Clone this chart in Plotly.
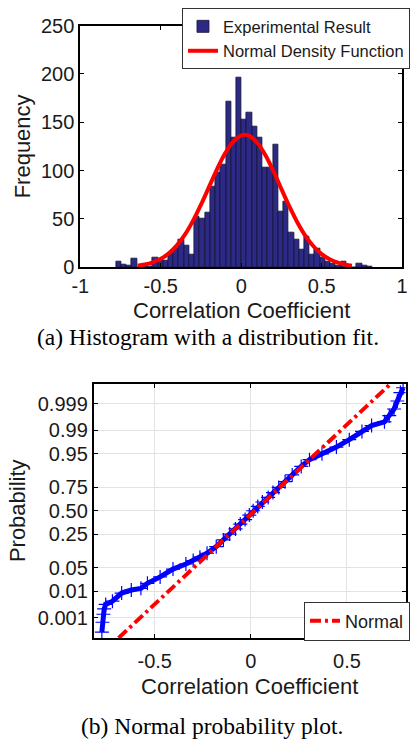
import plotly.graph_objects as go
from statistics import NormalDist

# ---------------- (a) Histogram data ----------------
bin_start = -0.778
bin_width = 0.0325
counts = [6, 3, 2, 9, 0, 1, 1, 10, 8, 7, 14, 19, 29, 22, 13,
          52, 50, 57, 83, 98, 106, 171, 134, 196, 153, 160, 145, 134, 103, 103, 127,
          58, 68, 36, 29, 18, 32, 13, 19, 10, 6, 4, 2, 6, 1, 0, 4, 2, 1]

# Normal density function
fit_x = [-0.644, -0.6, -0.55, -0.5, -0.45, -0.4, -0.35, -0.3, -0.25, -0.2, -0.15, -0.1,
         -0.05, 0.0, 0.022, 0.05, 0.1, 0.15, 0.2, 0.25, 0.3, 0.35, 0.4, 0.45, 0.5,
         0.55, 0.6, 0.65, 0.688]
fit_y = [1.5, 2.7, 5.0, 8.6, 14.3, 22.5, 33.6, 47.9, 64.7, 83.1, 101.5, 117.8,
         130.0, 136.3, 137.0, 135.9, 128.8, 116.0, 99.3, 80.8, 62.6, 46.0, 32.1, 21.4, 13.5,
         8.1, 4.6, 2.5, 1.5]

hist_xticks = [-1, -0.5, 0, 0.5, 1]
hist_xlabels = ["-1", "-0.5", "0", "0.5", "1"]
hist_yticks = [0, 50, 100, 150, 200, 250]

# ---------------- (b) Normal probability plot data ----------------
pp_x = [-0.775, -0.772, -0.767, -0.763, -0.755, -0.72, -0.672, -0.622, -0.572, -0.538,
        -0.472, -0.405, -0.338, -0.30, -0.265, -0.228, -0.18, -0.143, -0.11, -0.08,
        -0.055, -0.03, -0.008, 0.012, 0.036, 0.06, 0.09, 0.115, 0.145, 0.178,
        0.215, 0.262, 0.305, 0.37, 0.445, 0.512, 0.578, 0.628, 0.695, 0.72,
        0.745, 0.762, 0.778, 0.792]
pp_p = [0.00023, 0.00064, 0.0014, 0.0023, 0.0034, 0.0045, 0.0087, 0.011, 0.0125, 0.018,
        0.028, 0.046, 0.062, 0.075, 0.09, 0.11, 0.15, 0.20, 0.25, 0.30,
        0.35, 0.40, 0.45, 0.50, 0.55, 0.60, 0.65, 0.70, 0.75, 0.80,
        0.85, 0.90, 0.93, 0.95, 0.967, 0.980, 0.989, 0.9931, 0.9949, 0.9970,
        0.99836, 0.99924, 0.99968, 0.99981]

ref_x = [-0.688, 0.728]
ref_p = [0.00012, 0.99988]

prob_ticks = [0.001, 0.01, 0.05, 0.25, 0.50, 0.75, 0.95, 0.99, 0.999]
prob_labels = ["0.001", "0.01", "0.05", "0.25", "0.50", "0.75", "0.95", "0.99", "0.999"]
prob_range = [0.00012, 0.99988]
pp_xticks = [-0.5, 0, 0.5]
pp_xlabels = ["-0.5", "0", "0.5"]
pp_xrange = [-0.817, 0.805]

nd = NormalDist()
q = nd.inv_cdf

bin_centers = [bin_start + bin_width * (i + 0.5) for i in range(len(counts))]

SANS = "Liberation Sans, Arial, sans-serif"
SERIF = "Liberation Serif, Times New Roman, serif"
TXT = "#1a1a1a"

fig = go.Figure()

fig.add_trace(go.Bar(
    x=bin_centers, y=counts, width=bin_width, name="Experimental Result",
    marker=dict(color="#2D2A86", line=dict(color="#111133", width=0.8)),
    xaxis="x", yaxis="y", legend="legend"))
fig.add_trace(go.Scatter(
    x=fit_x, y=fit_y, mode="lines", name="Normal Density Function",
    line=dict(color="#FF0000", width=4, shape="spline"),
    xaxis="x", yaxis="y", legend="legend"))

fig.add_trace(go.Scatter(
    x=pp_x, y=[q(p) for p in pp_p], mode="lines+markers", name="Data",
    line=dict(color="#0000FF", width=5),
    marker=dict(symbol="cross-thin", size=10, line=dict(color="#0000FF", width=1.2)),
    showlegend=False, xaxis="x2", yaxis="y2"))
fig.add_trace(go.Scatter(
    x=ref_x, y=[q(p) for p in ref_p], mode="lines", name="Normal",
    line=dict(color="#FF0000", width=4, dash="11px,4px,3px,4px"),
    xaxis="x2", yaxis="y2", legend="legend2"))

axis_common = dict(showline=True, linecolor="black", linewidth=2, mirror="ticks",
                   ticks="inside", ticklen=4, tickcolor="black",
                   tickfont=dict(family=SANS, size=20, color=TXT), zeroline=False)

fig.update_layout(
    width=412, height=744,
    margin=dict(l=0, r=0, t=0, b=0),
    paper_bgcolor="white", plot_bgcolor="white",
    bargap=0,
    xaxis=dict(domain=[0.1796, 0.9903], range=[-1, 1], tickvals=hist_xticks,
               ticktext=hist_xlabels, showgrid=False, anchor="y",
               **axis_common),
    yaxis=dict(domain=[0.6452, 0.9798], range=[0, 250], tickvals=hist_yticks,
               showgrid=False, anchor="x",
               title=dict(text="Frequency", font=dict(family=SANS, size=22, color=TXT),
                          standoff=4),
               **axis_common),
    xaxis2=dict(domain=[0.2136, 0.9990], range=pp_xrange, tickvals=pp_xticks,
                ticktext=pp_xlabels, showgrid=True, gridcolor="#E3E3E3", gridwidth=1,
                anchor="y2", ticklabelstandoff=4,
                title=dict(text="Correlation Coefficient", font=dict(family=SANS, size=22, color=TXT),
                           standoff=8),
                **axis_common),
    yaxis2=dict(domain=[0.1317, 0.4839], range=[q(prob_range[0]), q(prob_range[1])],
                tickvals=[q(p) for p in prob_ticks], ticktext=prob_labels,
                showgrid=True, gridcolor="#E3E3E3", gridwidth=1, anchor="x2",
                title=dict(text="Probability", font=dict(family=SANS, size=22, color=TXT),
                           standoff=6),
                **axis_common),
    legend=dict(x=1.01, y=1.004, xanchor="right", yanchor="top",
                bgcolor="white", bordercolor="#333333", borderwidth=1,
                font=dict(family=SANS, size=16.5, color=TXT),
                tracegroupgap=0, itemwidth=30),
    legend2=dict(x=1.01, y=0.128, xanchor="right", yanchor="bottom",
                 bgcolor="white", bordercolor="#333333", borderwidth=1,
                 font=dict(family=SANS, size=18, color=TXT), itemwidth=30),
    annotations=[
        dict(text="Correlation Coefficient", x=0.5849, y=1 - 309 / 744,
             xref="paper", yref="paper", xanchor="center", yanchor="middle",
             showarrow=False, font=dict(family=SANS, size=22, color=TXT)),
        dict(text="(a) Histogram with a distribution fit.", x=0.5, y=1 - 336 / 744,
             xref="paper", yref="paper", xanchor="center", yanchor="middle",
             showarrow=False, font=dict(family=SERIF, size=23.5, color="black")),
        dict(text="(b) Normal probability plot.", x=0.512, y=1 - 737 / 744,
             xref="paper", yref="paper", xanchor="center", yanchor="middle",
             showarrow=False, font=dict(family=SERIF, size=23.5, color="black")),
    ],
)

fig.write_html("out.html")
